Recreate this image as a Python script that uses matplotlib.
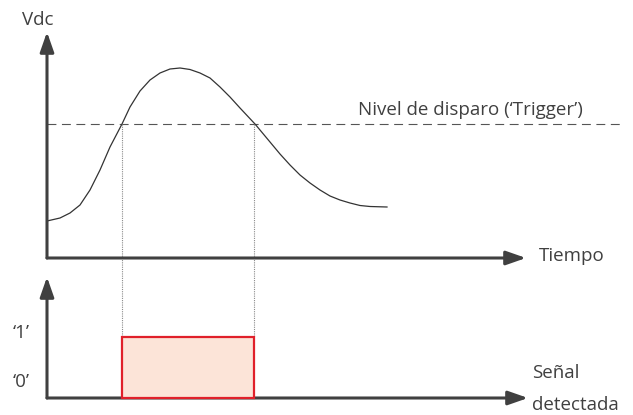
"""
Diagram: trigger level detection on a DC voltage pulse.
"""

import matplotlib
matplotlib.use("Agg")
import matplotlib.pyplot as plt
from matplotlib.patches import Rectangle

plt.rcParams['font.family'] = ['Open Sans', 'DejaVu Sans']

# Curve (x = time, y = drawing units, y grows downward)
curve_t = [47, 60, 70, 80, 90, 100, 110, 122, 130, 140, 150, 160, 170, 180,
           190, 200, 210, 220, 230, 240, 255, 270, 280, 290, 300, 310, 320,
           330, 340, 350, 360, 370, 387]
curve_v = [221, 218, 213, 205, 190, 170, 147, 124, 107, 91, 80, 73, 69, 68,
           69.5, 73, 78, 87, 97, 108, 124, 142, 154, 165, 175, 183, 190,
           196, 200, 203, 205.5, 206.5, 207]

trigger_level = 124
crossings = [122, 254]          # time where the curve passes the trigger
pulse_top, pulse_base = 337, 398

# axes of both panels
top_origin = (47, 258)
top_ends = (526, 32)            # x end, y end
bot_origin = (47, 398)
bot_ends = (528, 277)

labels = {
    "vdc": "Vdc",
    "tiempo": "Tiempo",
    "trigger": "Nivel de disparo (\u2018Trigger\u2019)",
    "one": "\u20181\u2019",
    "zero": "\u20180\u2019",
    "senal": "Se\u00f1al",
    "detectada": "detectada",
}

AXIS_COLOR = '#404040'
TEXT_COLOR = '#404040'
FS = 13.5


def arrow(ax, start, end):
    ax.annotate('', xy=end, xytext=start,
                arrowprops=dict(arrowstyle='-|>,head_length=1.2,head_width=0.42',
                                mutation_scale=10, lw=2.2, color=AXIS_COLOR,
                                shrinkA=0, shrinkB=0))


fig = plt.figure(figsize=(6.33, 4.15), dpi=100)
ax = fig.add_axes([0, 0, 1, 1])
ax.set_xlim(0, 633)
ax.set_ylim(415, 0)
ax.axis('off')

# top panel axes
arrow(ax, top_origin, (top_origin[0], top_ends[1]))
arrow(ax, top_origin, (top_ends[0], top_origin[1]))

# bottom panel axes
arrow(ax, bot_origin, (bot_origin[0], bot_ends[1]))
arrow(ax, bot_origin, (bot_ends[0], bot_origin[1]))

# trigger level
ax.plot([top_origin[0], 620], [trigger_level, trigger_level], color='#555555',
        lw=0.8, dashes=(8, 5))

# voltage curve
ax.plot(curve_t, curve_v, color='#333333', lw=0.9, solid_joinstyle='round')

# dotted projections
for t in crossings:
    ax.plot([t, t], [trigger_level, pulse_top], color='#8a8a8a', lw=0.8,
            linestyle=(0, (1, 1)))

# detected pulse
ax.add_patch(Rectangle((crossings[0], pulse_top), crossings[1] - crossings[0],
                       pulse_base - pulse_top, facecolor='#fce4d8',
                       edgecolor='#e0202a', lw=1.6, zorder=3))

# texts
ax.text(38, 20, labels["vdc"], fontsize=FS, color=TEXT_COLOR, ha='center', va='center')
ax.text(539, 256, labels["tiempo"], fontsize=FS, color=TEXT_COLOR, ha='left', va='center')
ax.text(358, 110, labels["trigger"], fontsize=FS, color=TEXT_COLOR, ha='left', va='center')
ax.text(21, 333, labels["one"], fontsize=FS, color=TEXT_COLOR, ha='center', va='center')
ax.text(21, 382, labels["zero"], fontsize=FS, color=TEXT_COLOR, ha='center', va='center')
ax.text(532, 373, labels["senal"], fontsize=FS, color=TEXT_COLOR, ha='left', va='center')
ax.text(532, 405, labels["detectada"], fontsize=FS, color=TEXT_COLOR, ha='left', va='center')

fig.savefig("out.png", dpi=100)
